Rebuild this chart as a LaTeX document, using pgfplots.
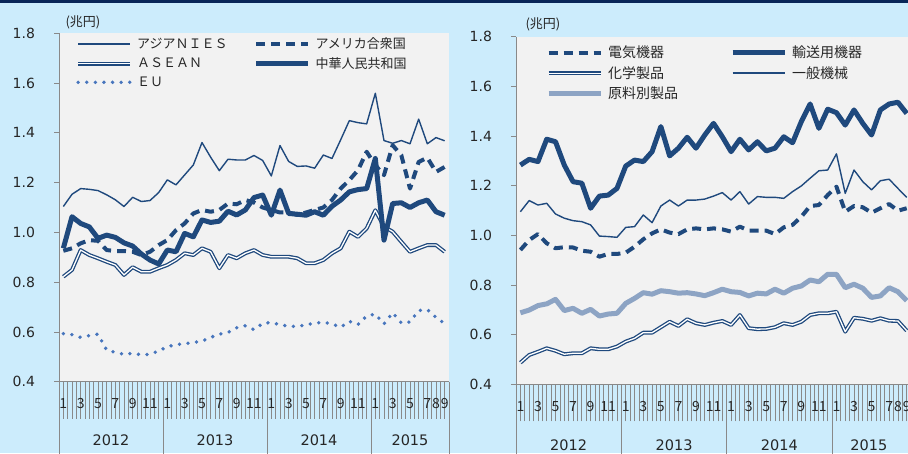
\documentclass[border=0pt]{standalone}
\usepackage{fontspec}
\setmainfont{DejaVu Sans}
\newfontfamily\cjk{Noto Sans CJK JP}
\usepackage{pgfplots}
\usepackage{pgfplotstable}
\pgfplotsset{compat=1.18}
\definecolor{bgblue}{RGB}{204,236,252}
\definecolor{navy}{RGB}{8,38,88}
\definecolor{plotbg}{RGB}{242,242,242}
\definecolor{ser}{RGB}{31,73,125}
\definecolor{eu}{RGB}{71,117,189}
\definecolor{raw}{RGB}{141,164,196}
\definecolor{axgray}{RGB}{137,137,137}
\definecolor{txt}{RGB}{38,38,38}

\pgfplotstableread{
m nies usa asean china eu
1 1.104 0.926 0.822 0.936 0.593
2 1.153 0.936 0.849 1.063 0.589
3 1.176 0.956 0.929 1.036 0.578
4 1.173 0.969 0.909 1.022 0.585
5 1.168 0.966 0.896 0.976 0.591
6 1.151 0.929 0.882 0.989 0.527
7 1.131 0.925 0.869 0.980 0.518
8 1.104 0.925 0.829 0.958 0.510
9 1.141 0.922 0.860 0.945 0.514
10 1.124 0.909 0.842 0.913 0.508
11 1.128 0.922 0.842 0.889 0.510
12 1.160 0.949 0.856 0.873 0.524
13 1.211 0.969 0.869 0.929 0.540
14 1.191 1.009 0.889 0.922 0.550
15 1.231 1.036 0.916 0.996 0.552
16 1.271 1.076 0.909 0.982 0.558
17 1.361 1.090 0.936 1.050 0.563
18 1.302 1.083 0.922 1.040 0.578
19 1.248 1.090 0.856 1.045 0.591
20 1.294 1.116 0.909 1.085 0.598
21 1.291 1.113 0.896 1.070 0.617
22 1.291 1.130 0.916 1.090 0.625
23 1.309 1.120 0.929 1.140 0.609
24 1.289 1.100 0.909 1.150 0.634
25 1.227 1.090 0.902 1.069 0.638
26 1.349 1.080 0.902 1.170 0.629
27 1.285 1.080 0.902 1.076 0.623
28 1.265 1.070 0.896 1.073 0.622
29 1.267 1.080 0.876 1.069 0.629
30 1.258 1.090 0.876 1.083 0.635
31 1.311 1.100 0.889 1.069 0.639
32 1.297 1.130 0.916 1.105 0.632
33 1.372 1.176 0.936 1.130 0.619
34 1.449 1.210 1.003 1.163 0.643
35 1.441 1.250 0.982 1.172 0.630
36 1.436 1.324 1.016 1.176 0.664
37 1.559 1.270 1.089 1.297 0.672
38 1.369 1.230 1.023 0.969 0.632
39 1.358 1.350 1.003 1.116 0.677
40 1.369 1.310 0.962 1.119 0.636
41 1.356 1.176 0.922 1.100 0.640
42 1.455 1.283 0.936 1.119 0.686
43 1.356 1.300 0.949 1.130 0.690
44 1.381 1.243 0.949 1.083 0.658
45 1.368 1.263 0.922 1.069 0.634
}\lefttab

\pgfplotstableread{
m elec trans chem gen raw
1 0.941 1.283 0.487 1.095 0.688
2 0.981 1.306 0.518 1.140 0.699
3 1.005 1.297 0.531 1.122 0.717
4 0.968 1.387 0.545 1.129 0.724
5 0.948 1.377 0.535 1.086 0.742
6 0.952 1.283 0.521 1.069 0.697
7 0.951 1.216 0.525 1.059 0.706
8 0.938 1.210 0.525 1.055 0.686
9 0.934 1.109 0.545 1.042 0.702
10 0.914 1.158 0.541 0.997 0.675
11 0.925 1.162 0.541 0.995 0.683
12 0.925 1.189 0.552 0.992 0.686
13 0.930 1.279 0.572 1.032 0.726
14 0.954 1.303 0.585 1.035 0.746
15 0.984 1.297 0.608 1.082 0.769
16 1.008 1.337 0.608 1.051 0.763
17 1.024 1.438 0.630 1.118 0.777
18 1.011 1.320 0.652 1.142 0.773
19 1.005 1.351 0.635 1.118 0.767
20 1.024 1.395 0.662 1.142 0.769
21 1.028 1.351 0.646 1.142 0.764
22 1.024 1.404 0.639 1.146 0.757
23 1.028 1.451 0.648 1.158 0.769
24 1.024 1.397 0.655 1.172 0.783
25 1.015 1.337 0.639 1.142 0.773
26 1.035 1.387 0.679 1.176 0.770
27 1.019 1.344 0.626 1.126 0.756
28 1.019 1.377 0.622 1.156 0.767
29 1.019 1.340 0.623 1.153 0.764
30 1.005 1.351 0.630 1.153 0.783
31 1.032 1.397 0.646 1.149 0.767
32 1.042 1.373 0.639 1.176 0.787
33 1.075 1.458 0.652 1.199 0.796
34 1.118 1.529 0.679 1.230 0.820
35 1.122 1.431 0.686 1.260 0.813
36 1.162 1.508 0.686 1.263 0.843
37 1.196 1.494 0.692 1.328 0.843
38 1.095 1.444 0.612 1.169 0.789
39 1.118 1.505 0.668 1.263 0.803
40 1.113 1.451 0.664 1.216 0.787
41 1.091 1.404 0.656 1.183 0.750
42 1.109 1.505 0.666 1.220 0.756
43 1.126 1.529 0.656 1.226 0.789
44 1.099 1.536 0.655 1.189 0.773
45 1.109 1.491 0.616 1.153 0.737
}\righttab

\pgfplotsset{
  thinS/.style={ser, line width=1.4pt, line join=round},
  dashS/.style={ser, line width=4pt, dash pattern=on 9pt off 6pt, line join=round},
  dblS/.style={ser, line width=1.3pt, double=white, double distance=1.3pt, line join=round},
  thickS/.style={ser, line width=5pt, line join=round},
  dotS/.style={eu, line width=3.8pt, line cap=round, dash pattern=on 0pt off 8.6pt},
  rawS/.style={raw, line width=5pt, line join=round},
  myaxis/.style={
    scale only axis,
    xmin=0.5, ymin=0.4, ymax=1.8,
    clip mode=individual,
    axis background/.style={fill=plotbg},
    axis lines=left,
    axis line style={axgray, line width=0.8pt, -},
    tick align=outside,
    tick style={axgray, line width=0.8pt},
    major tick length=5pt,
    minor tick length=72pt,
    ytick={0.4,0.6,0.8,1.0,1.2,1.4,1.6,1.8},
    yticklabel style={xshift=-15.5pt, /pgf/number format/.cd, fixed, fixed zerofill, precision=1, assume math mode=true},
    ticklabel style={font=\fontsize{14}{16}\selectfont, text=txt},
    xtick={0.5,1.5,...,45.5},
    xticklabel={\mbox{}},
    xtick style={/pgfplots/major tick length=37pt},
    extra x ticks={1,...,45},
    extra x tick labels={1,{},3,{},5,{},7,{},9,{},11,{},1,{},3,{},5,{},7,{},9,{},11,{},1,{},3,{},5,{},7,{},9,{},11,{},1,{},3,{},5,{},7,8,9},
    extra x tick style={/pgfplots/major tick length=0pt, xticklabel style={font=\cjk\fontsize{14}{16}\selectfont, anchor=center, yshift=-22pt}},
    legend columns=2,
    legend cell align=left,
    legend image code/.code={\draw[##1] (0pt,0pt) -- (52pt,0pt);},
  },
}

\begin{document}
\begin{tikzpicture}
\useasboundingbox (0,0) rectangle (908pt,453pt);
\fill[bgblue] (0,0) rectangle (908pt,453pt);
\clip (0,0) rectangle (908pt,453pt);
\fill[navy] (0,450.3pt) rectangle (908pt,453pt);

% Left panel
\begin{axis}[myaxis,
  at={(59pt,71.3pt)}, anchor=south west,
  width=390pt, height=348.4pt,
  xmax=45.5,
  minor xtick={0.5,12.5,24.5,36.5,45.5},
  legend style={draw=none, fill=none, inner xsep=0pt, inner ysep=0pt,
    at={(axis description cs:0.0436,0.993)}, anchor=north west,
    font=\cjk\fontsize{13}{15}\selectfont, text=txt, row sep=3pt,
    nodes={inner sep=2pt},
    /tikz/every odd column/.append style={column sep=3pt},
    /tikz/every even column/.append style={column sep=24pt}},
]
\addplot[thinS] table[x=m,y=nies] {\lefttab};
\addlegendentry{アジアＮＩＥＳ}
\addplot[dashS] table[x=m,y=usa] {\lefttab};
\addlegendentry{アメリカ合衆国}
\addplot[dblS] table[x=m,y=asean] {\lefttab};
\addlegendentry{ＡＳＥＡＮ}
\addplot[thickS] table[x=m,y=china] {\lefttab};
\addlegendentry{中華人民共和国}
\addplot[dotS] table[x=m,y=eu] {\lefttab};
\addlegendentry{ＥＵ}
\node[anchor=west, font=\cjk\fontsize{13}{15}\selectfont, text=txt] at (axis description cs:0,1) [xshift=3pt, yshift=11pt] {(兆円)};
\node[font=\fontsize{14.5}{16}\selectfont, text=txt] at (axis cs:6.5,0.4) [yshift=-59pt] {2012};
\node[font=\fontsize{14.5}{16}\selectfont, text=txt] at (axis cs:18.5,0.4) [yshift=-59pt] {2013};
\node[font=\fontsize{14.5}{16}\selectfont, text=txt] at (axis cs:30.5,0.4) [yshift=-59pt] {2014};
\node[font=\fontsize{14.5}{16}\selectfont, text=txt] at (axis cs:41,0.4) [yshift=-59pt] {2015};
\end{axis}

% Right panel
\begin{axis}[myaxis,
  at={(516pt,68.7pt)}, anchor=south west,
  width=392pt, height=347.6pt,
  xmax=45.15,
  minor xtick={0.5,12.5,24.5,36.5},
  legend style={draw=none, fill=none, inner xsep=0pt, inner ysep=0pt,
    at={(axis description cs:0.0765,0.979)}, anchor=north west,
    font=\cjk\fontsize{14}{16}\selectfont, text=txt, row sep=3pt,
    nodes={inner sep=2pt},
    /tikz/every odd column/.append style={column sep=3pt},
    /tikz/every even column/.append style={column sep=50pt}},
]
\addplot[dashS] table[x=m,y=elec] {\righttab};
\addlegendentry{電気機器}
\addplot[thickS] table[x=m,y=trans] {\righttab};
\addlegendentry{輸送用機器}
\addplot[dblS] table[x=m,y=chem] {\righttab};
\addlegendentry{化学製品}
\addplot[thinS] table[x=m,y=gen] {\righttab};
\addlegendentry{一般機械}
\addplot[rawS] table[x=m,y=raw] {\righttab};
\addlegendentry{原料別製品}
\node[anchor=west, font=\cjk\fontsize{13}{15}\selectfont, text=txt] at (axis description cs:0,1) [xshift=6pt, yshift=12pt] {(兆円)};
\node[font=\fontsize{14.5}{16}\selectfont, text=txt] at (axis cs:6.5,0.4) [yshift=-61pt] {2012};
\node[font=\fontsize{14.5}{16}\selectfont, text=txt] at (axis cs:18.5,0.4) [yshift=-61pt] {2013};
\node[font=\fontsize{14.5}{16}\selectfont, text=txt] at (axis cs:30.5,0.4) [yshift=-61pt] {2014};
\node[font=\fontsize{14.5}{16}\selectfont, text=txt] at (axis cs:40.7,0.4) [yshift=-61pt] {2015};
\end{axis}
\end{tikzpicture}
\end{document}
